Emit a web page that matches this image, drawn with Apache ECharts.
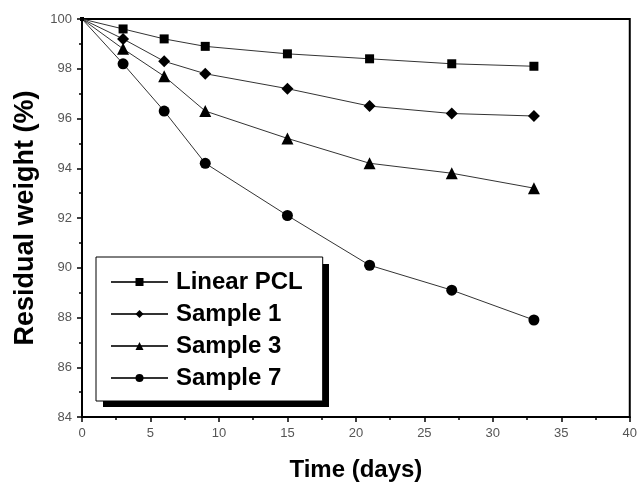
<!DOCTYPE html>
<html>
<head>
<meta charset="utf-8">
<script src="https://cdn.jsdelivr.net/npm/echarts@6/dist/echarts.min.js"></script>
<style>html,body{margin:0;padding:0;background:#fff}#c{width:640px;height:487px}</style>
</head>
<body>
<div id="c"></div>
<script>
var days = [0, 3, 6, 9, 15, 21, 27, 33];
var linearPCL = [100, 99.6, 99.2, 98.9, 98.6, 98.4, 98.2, 98.1];
var sample1 = [100, 99.2, 98.3, 97.8, 97.2, 96.5, 96.2, 96.1];
var sample3 = [100, 98.8, 97.7, 96.3, 95.2, 94.2, 93.8, 93.2];
var sample7 = [100, 98.2, 96.3, 94.2, 92.1, 90.1, 89.1, 87.9];
var seriesNames = ['Linear PCL', 'Sample 1', 'Sample 3', 'Sample 7'];
var xTicks = [0, 40, 5];
var yTicks = [84, 100, 2];

function pts(vals) {
  return days.map(function (d, i) {
    var p = { value: [d, vals[i]] };
    if (d === 0) p.symbolSize = 4;
    return p;
  });
}
var symbols = ['rect', 'diamond', 'triangle', 'circle'];
var sizes = [9, 12, 12, 11];
var valsAll = [linearPCL, sample1, sample3, sample7];

var chart = echarts.init(document.getElementById('c'));
chart.setOption({
  animation: false,
  backgroundColor: '#fff',
  grid: { left: 82, right: 9, top: 19, bottom: 68, show: true, borderColor: '#000', borderWidth: 2, backgroundColor: 'transparent' },
  graphic: [{
    type: 'rect', z: 5, zlevel: 0,
    shape: { x: 103, y: 264, width: 226, height: 143 },
    style: { fill: '#000' }
  }],
  legend: {
    orient: 'vertical', left: 96, top: 257, z: 10,
    backgroundColor: '#fff', borderColor: '#000', borderWidth: 1,
    padding: [13, 20, 11, 14],
    itemWidth: 57, itemHeight: 10, itemGap: 8,
    textStyle: { fontFamily: 'Liberation Sans', fontWeight: 'bold', fontSize: 24, color: '#000', padding: [0, 0, 0, 3] },
    data: seriesNames
  },
  xAxis: {
    type: 'value', min: xTicks[0], max: xTicks[1], interval: xTicks[2],
    name: 'Time (days)', nameLocation: 'middle', nameGap: 41,
    nameTextStyle: { fontFamily: 'Liberation Sans', fontWeight: 'bold', fontSize: 24, color: '#000' },
    axisLine: { lineStyle: { color: '#000', width: 2 } },
    axisTick: { length: 5, lineStyle: { color: '#000', width: 1.5 } },
    minorTick: { show: true, splitNumber: 2, length: 3, lineStyle: { color: '#000', width: 1.5 } },
    axisLabel: { margin: 10, fontFamily: 'Liberation Sans', fontSize: 13, color: '#555' },
    splitLine: { show: false }
  },
  yAxis: {
    type: 'value', min: yTicks[0], max: yTicks[1], interval: yTicks[2],
    name: 'Residual weight (%)', nameLocation: 'middle', nameGap: 40,
    nameTextStyle: { fontFamily: 'Liberation Sans', fontWeight: 'bold', fontSize: 27, color: '#000' },
    axisLine: { lineStyle: { color: '#000', width: 2 } },
    axisTick: { length: 5, lineStyle: { color: '#000', width: 1.5 } },
    minorTick: { show: true, splitNumber: 2, length: 3, lineStyle: { color: '#000', width: 1.5 } },
    axisLabel: { margin: 10, fontFamily: 'Liberation Sans', fontSize: 13, color: '#555' },
    splitLine: { show: false }
  },
  series: seriesNames.map(function (n, i) {
    return {
      name: n, type: 'line', data: pts(valsAll[i]),
      symbol: symbols[i], symbolSize: sizes[i], showSymbol: true,
      itemStyle: { color: '#000' },
      lineStyle: { color: '#333', width: 1 }
    };
  })
});
</script>
</body>
</html>
